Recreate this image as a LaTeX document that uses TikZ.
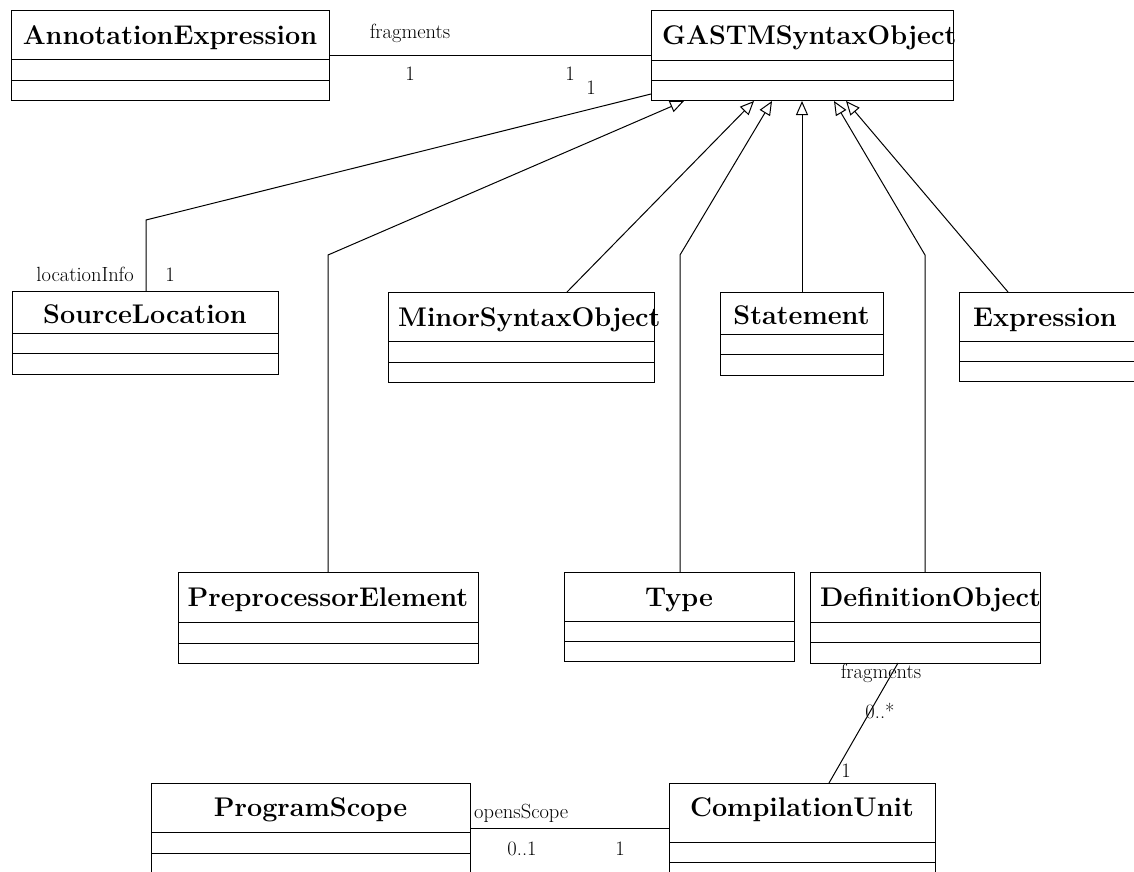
\documentclass[tikz,border=0pt]{standalone}
\usetikzlibrary{arrows.meta,calc}
\begin{document}
\begin{tikzpicture}[x=1pt,y=-1pt,
  classbox/.style={draw=black, line width=1pt, inner sep=0pt, outer sep=0pt, anchor=north west},
  classtitle/.style={font=\fontsize{27}{31}\selectfont\bfseries, inner sep=0pt, anchor=base},
  lefttitle/.style={classtitle, anchor=base west},
  rolelabel/.style={font=\fontsize{20.5}{24}\selectfont, inner sep=0pt, anchor=base},
  assoc/.style={draw=black, line width=1pt},
  generalize/.style={draw=black, line width=1pt, -{Triangle[open, length=14pt, width=12pt]}}]
\useasboundingbox (0,0) rectangle (1134,871);

% compartment separators of a class box
\newcommand\classrule[2]{\draw[line width=1pt] ($(#1.north west)+(0,#2)$) -- ($(#1.north east)+(0,#2)$);}

% ---- class boxes ----
\node[classbox, minimum width=318pt, minimum height=90pt] (ann) at (11,10) {};
\node[classbox, minimum width=302pt, minimum height=90pt] (gastm) at (651,10) {};
\node[classbox, minimum width=266pt, minimum height=83pt] (srcloc) at (12,291) {};
\node[classbox, minimum width=266pt, minimum height=90pt] (minor) at (388,292) {};
\node[classbox, minimum width=163pt, minimum height=83pt] (stmt) at (720,292) {};
\node[classbox, minimum width=190pt, minimum height=89pt] (expr) at (959,292) {};
\node[classbox, minimum width=300pt, minimum height=91pt] (prep) at (178,572) {};
\node[classbox, minimum width=230pt, minimum height=89pt] (type) at (564,572) {};
\node[classbox, minimum width=230pt, minimum height=91pt] (defobj) at (810,572) {};
\node[classbox, minimum width=319pt, minimum height=100pt] (progscope) at (151,783) {};
\node[classbox, minimum width=266pt, minimum height=100pt] (compunit) at (669,783) {};

\classrule{ann}{49}\classrule{ann}{70}
\classrule{gastm}{50}\classrule{gastm}{70}
\classrule{srcloc}{42}\classrule{srcloc}{62}
\classrule{minor}{49}\classrule{minor}{70}
\classrule{stmt}{42}\classrule{stmt}{62}
\classrule{expr}{49}\classrule{expr}{69}
\classrule{prep}{50}\classrule{prep}{71}
\classrule{type}{49}\classrule{type}{69}
\classrule{defobj}{50}\classrule{defobj}{70}
\classrule{progscope}{49}\classrule{progscope}{70}
\classrule{compunit}{59}\classrule{compunit}{79}

% ---- class names ----
\node[classtitle] (annT) at ($(ann.north)+(0,34)$) {AnnotationExpression};
\node[lefttitle] (gastmT) at ($(gastm.north west)+(11,34)$) {GASTMSyntaxObject};
\node[classtitle] (srclocT) at ($(srcloc.north)+(0,32)$) {SourceLocation};
\node[lefttitle] (minorT) at ($(minor.north west)+(10,34)$) {MinorSyntaxObject};
\node[classtitle] (stmtT) at ($(stmt.north)+(0,32)$) {Statement};
\node[lefttitle] (exprT) at ($(expr.north west)+(14,34)$) {Expression};
\node[classtitle] (prepT) at ($(prep.north)+(0,34)$) {PreprocessorElement};
\node[classtitle] (typeT) at ($(type.north)+(0,34)$) {Type};
\node[lefttitle] (defobjT) at ($(defobj.north west)+(10,34)$) {DefinitionObject};
\node[classtitle] (progscopeT) at ($(progscope.north)+(0,33)$) {ProgramScope};
\node[classtitle] (compunitT) at ($(compunit.north)+(0,33)$) {CompilationUnit};

% ---- associations ----
\draw[assoc] (ann.east) -- (gastm.west);
\draw[assoc] ($(srcloc.north west)+(134,0)$) -- ++(0,-71) -- ($(gastm.south west)+(0,-6)$);
\draw[assoc] ($(defobj.south west)+(88,0)$) -- ($(compunit.north west)+(160,0)$);
\draw[assoc] ($(progscope.north east)+(0,45)$) -- ($(compunit.north west)+(0,45)$);

% ---- generalizations ----
\draw[generalize] ($(prep.north west)+(150,0)$) -- ++(0,-317) -- ($(gastm.south west)+(33,1)$);
\draw[generalize] ($(minor.north west)+(179,0)$) -- ($(gastm.south west)+(103,1)$);
\draw[generalize] ($(type.north west)+(116,0)$) -- ++(0,-317) -- ($(gastm.south west)+(121,1)$);
\draw[generalize] ($(stmt.north west)+(82,0)$) -- ($(gastm.south west)+(151,1)$);
\draw[generalize] ($(defobj.north west)+(115,0)$) -- ++(0,-317) -- ($(gastm.south west)+(183,1)$);
\draw[generalize] ($(expr.north west)+(49,0)$) -- ($(gastm.south west)+(195,1)$);

% ---- role names and multiplicities ----
\node[rolelabel] (l1) at (410,38) {fragments};
\node[rolelabel] (l2) at (410,80) {1};
\node[rolelabel] (l3) at (570,80) {1};
\node[rolelabel] (l4) at (591,94) {1};
\node[rolelabel, anchor=base east] (l5) at (134,281) {locationInfo};
\node[rolelabel] (l6) at (170,281) {1};
\node[rolelabel] (l7) at (881,678) {fragments};
\node[rolelabel] (l8) at (880,718) {0..*};
\node[rolelabel] (l9) at (846,777) {1};
\node[rolelabel, anchor=base west] (l10) at (474,818) {opensScope};
\node[rolelabel] (l11) at (522,855) {0..1};
\node[rolelabel] (l12) at (620,855) {1};
\end{tikzpicture}
\end{document}
